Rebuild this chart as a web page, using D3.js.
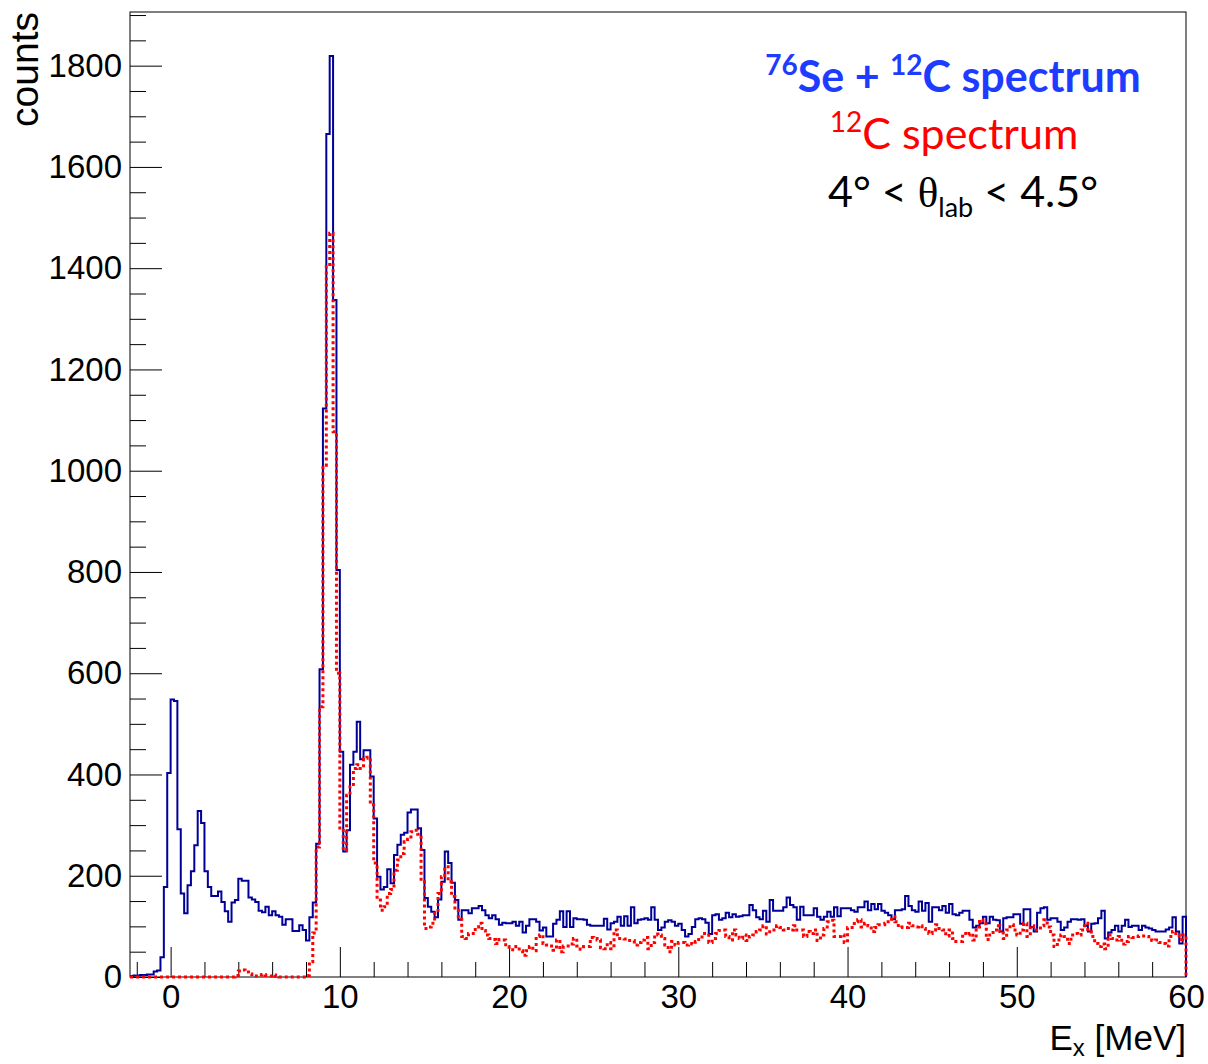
<!DOCTYPE html>
<html lang="en">
<head>
<meta charset="UTF-8">
<title>Ex spectrum</title>
<script src="https://cdn.jsdelivr.net/npm/d3@7/dist/d3.min.js"></script>
<style>
  body { margin:0; background:#fff; }
  svg text { font-family: "Liberation Sans", Arial, Helvetica, sans-serif; fill:#000; }
  .axis path { display:none; }
  .axis line { stroke:#000; stroke-width:1; }
  .axis text { font-size:33px; }
  .legend text { font-family: Lato, "Open Sans", sans-serif; }
</style>
</head>
<body>
<div class="app"></div>
<script>
// histogram binning (MeV)
var binLow = -2.4, binWidth = 0.2;

// 76Se + 12C spectrum, counts per bin
var seCounts = [
  2,3,3,4,4,5,5,11,13,39, 178,403,548,545,292,165,126,181,209,260,
  328,304,209,178,160,160,169,148,130,109, 147,152,194,190,190,157,153,148,131,128,
  139,122,130,122,119,103,114,114,91,91, 102,93,72,118,147,263,608,1123,1665,1819,
  1337,804,445,248,290,419,445,504,430,448, 448,396,313,198,173,178,213,185,241,261,
  281,285,325,331,331,294,251,156,139,129, 118,153,188,248,225,186,152,113,132,132,
  126,136,136,140,132,122,116,122,114,103, 107,106,106,109,101,109,88,101,114,114,
  109,92,98,80,80,105,113,130,99,130, 99,116,114,114,113,103,101,101,101,101,
  115,94,106,109,119,101,120,101,138,106, 113,114,116,113,138,113,93,98,109,112,
  109,101,105,93,80,85,99,114,116,114, 107,85,122,124,113,116,127,118,124,119,
  120,122,122,142,132,118,114,131,109,152, 131,131,131,138,157,142,138,113,139,122,
  122,122,136,119,113,119,129,119,138,120, 136,136,136,132,129,138,138,149,132,144,
  134,144,131,127,122,114,132,132,134,160, 140,132,129,149,131,146,109,138,138,132,
  140,127,144,124,122,127,131,131,113,98, 101,106,119,106,119,113,112,90,116,118,
  118,124,124,105,134,134,99,90,127,136, 138,113,116,116,109,93,98,109,114,114,
  113,114,101,90,105,106,116,131,76,88, 93,101,90,101,113,99,101,101,93,101,
  98,96,93,90,90,90,94,98,118,90, 66,119
];

// 12C spectrum, counts per bin
var cCounts = [
  0,0,0,0,0,0,0,0,0,0, 0,0,0,0,0,0,0,0,0,0,
  0,0,0,0,0,0,0,0,0,0, 0,3,12,14,10,6,2,2,4,5,
  3,2,4,1,0,0,0,0,0,0, 0,0,3,30,87,257,534,1011,1403,1469,
  1077,600,290,250,359,376,412,419,412,432, 434,340,225,152,132,139,165,173,211,231,
  244,267,272,287,290,282,188,96,99,106, 126,165,198,218,188,159,132,119,80,76,
  86,86,99,106,92,83,76,74,66,74, 73,60,54,54,60,52,43,52,60,52,
  80,83,66,63,61,53,73,50,61,61, 65,76,61,55,60,60,78,76,73,58,
  56,68,56,93,76,76,75,72,72,63, 68,73,78,56,68,85,83,76,63,50,
  70,63,68,68,63,66,65,70,74,86, 86,68,76,86,92,93,80,73,93,83,
  76,83,72,80,83,90,93,101,85,93, 93,101,98,93,96,93,101,93,93,80,
  90,86,93,72,83,96,109,112,80,80, 83,68,98,98,109,113,99,106,101,90,
  98,103,103,106,109,119,109,98,99,98, 106,101,99,101,96,90,86,93,103,96,
  93,81,93,76,70,70,86,83,86,73, 99,113,105,74,83,93,101,90,76,93,
  103,93,83,93,106,80,101,93,93,101, 113,99,83,60,73,83,80,66,83,86,
  83,93,106,90,80,66,60,65,56,83, 76,73,80,65,70,80,78,80,81,81,
  80,73,72,73,68,66,61,80,90,83, 74,83
];

var xMajor = [0, 10, 20, 30, 40, 50, 60];
var yMajor = [0, 200, 400, 600, 800, 1000, 1200, 1400, 1600, 1800];
var xDomain = [-2.4, 60], yDomain = [0, 1906];

var width = 1208, height = 1064,
    frame = {left:130, right:1186, top:12, bottom:977};

var svg = d3.select('.app').append('svg')
    .attr('width', width).attr('height', height);

var x = d3.scaleLinear().domain(xDomain).range([frame.left, frame.right]);
var y = d3.scaleLinear().domain(yDomain).range([frame.bottom, frame.top]);

// minor ticks
var xMinor = d3.range(-2, 60.001, 2).filter(function(v){ return xMajor.indexOf(v) < 0; });
var yMinor = d3.range(0, 1901, 50).filter(function(v){ return v % 200 !== 0; });

svg.append('g').attr('class','axis')
    .attr('transform','translate(0,'+frame.bottom+')')
    .call(d3.axisBottom(x).tickValues(xMinor).tickSize(-15).tickFormat(''));
svg.append('g').attr('class','axis')
    .attr('transform','translate(0,'+frame.bottom+')')
    .call(d3.axisBottom(x).tickValues(xMajor).tickSize(-30).tickPadding(8).tickFormat(d3.format('d')));
svg.append('g').attr('class','axis')
    .attr('transform','translate('+frame.left+',0)')
    .call(d3.axisLeft(y).tickValues(yMinor).tickSize(-16).tickFormat(''));
svg.append('g').attr('class','axis')
    .attr('transform','translate('+frame.left+',0)')
    .call(d3.axisLeft(y).tickValues(yMajor).tickSize(-32).tickPadding(8).tickFormat(d3.format('d')));

// frame
svg.append('rect')
    .attr('x', frame.left).attr('y', frame.top)
    .attr('width', frame.right-frame.left).attr('height', frame.bottom-frame.top)
    .attr('fill','none').attr('stroke','#000').attr('stroke-width',1);

// histograms
svg.append('clipPath').attr('id','clip').append('rect')
    .attr('x', frame.left).attr('y', frame.top-2)
    .attr('width', frame.right-frame.left+2).attr('height', frame.bottom-frame.top+4);

function stepPoints(counts) {
  var pts = [[binLow, 0]];
  counts.forEach(function(c, i){ pts.push([binLow + i*binWidth, c]); });
  var hi = binLow + counts.length*binWidth;
  pts.push([hi, counts[counts.length-1]]);
  pts.push([hi, 0]);
  return pts;
}
var line = d3.line()
    .x(function(d){ return x(d[0]); })
    .y(function(d){ return y(d[1]); })
    .curve(d3.curveStepAfter);

var g = svg.append('g').attr('clip-path','url(#clip)');
g.append('path').attr('d', line(stepPoints(seCounts)))
    .attr('fill','none').attr('stroke','#000099').attr('stroke-width',2);
g.append('path').attr('d', line(stepPoints(cCounts)))
    .attr('fill','none').attr('stroke','#ff0000').attr('stroke-width',3)
    .attr('stroke-dasharray','3,3');

// axis titles
svg.append('text')
    .attr('transform','translate(38,12) rotate(-90)')
    .attr('text-anchor','end').style('font-size','39px').text('counts');

var xt = svg.append('text')
    .attr('x', 1186).attr('y', 1050)
    .attr('text-anchor','end').style('font-size','35px');
xt.append('tspan').text('E');
xt.append('tspan').attr('dy', 6).style('font-size','24px').text('x');
xt.append('tspan').attr('dy', -6).text(' [MeV]');

// legend text
var lg = svg.append('g').attr('class','legend');
var t1 = lg.append('text').attr('x', 953).attr('y', 92)
    .attr('text-anchor','middle').style('font-size','43px').style('font-weight','bold')
    .style('fill','#1e3cff');
t1.append('tspan').attr('dy',-17).style('font-size','28px').text('76');
t1.append('tspan').attr('dy',17).text('Se + ');
t1.append('tspan').attr('dy',-17).style('font-size','28px').text('12');
t1.append('tspan').attr('dy',17).text('C spectrum');

var t2 = lg.append('text').attr('x', 954).attr('y', 149)
    .attr('text-anchor','middle').style('font-size','43px').style('fill','#ff0000');
t2.append('tspan').attr('dy',-17).style('font-size','28px').text('12');
t2.append('tspan').attr('dy',17).text('C spectrum');

var t3 = lg.append('text').attr('x', 963).attr('y', 207)
    .attr('text-anchor','middle').style('font-size','43px').style('fill','#000');
t3.append('tspan').text('4\u00b0 < ');
t3.append('tspan').style('font-family','"Liberation Serif", "DejaVu Serif", serif').text('\u03b8');
t3.append('tspan').attr('dy',10).style('font-size','27px').text('lab');
t3.append('tspan').attr('dy',-10).text(' < 4.5\u00b0');
</script>
</body>
</html>
